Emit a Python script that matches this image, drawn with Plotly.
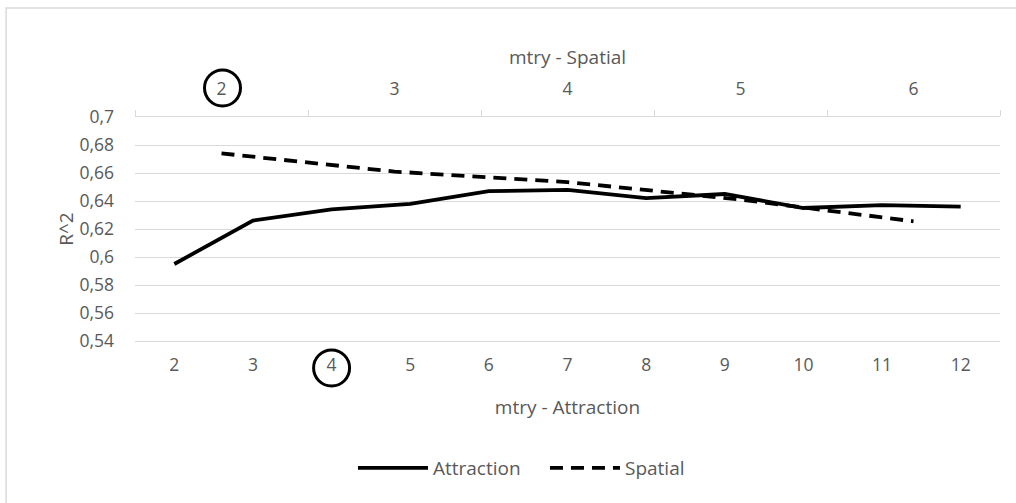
import plotly.graph_objects as go

# mtry values tried for each model and the resulting R^2
attraction_mtry = ["2", "3", "4", "5", "6", "7", "8", "9", "10", "11", "12"]
attraction_r2 = [0.595, 0.626, 0.634, 0.638, 0.647, 0.648, 0.642, 0.645, 0.635, 0.637, 0.636]

spatial_mtry = ["2", "3", "4", "5", "6"]
spatial_r2 = [0.674, 0.661, 0.6535, 0.641, 0.6255]

# chosen mtry for each model (circled on the axes)
best_spatial = "2"
best_attraction = "4"

y_ticks = [0.54, 0.56, 0.58, 0.60, 0.62, 0.64, 0.66, 0.68, 0.70]

GRAY_TEXT = "#595959"
GRID = "#d9d9d9"
FONT = "Open Sans, Noto Sans, sans-serif"

fig = go.Figure()

fig.add_trace(go.Scatter(
    x=attraction_mtry, y=attraction_r2, name="Attraction",
    mode="lines", line=dict(color="#000000", width=3.8),
    xaxis="x", yaxis="y",
))
fig.add_trace(go.Scatter(
    x=spatial_mtry, y=spatial_r2, name="Spatial",
    mode="lines", line=dict(color="#000000", width=3.8, dash="13px,8px"),
    xaxis="x2", yaxis="y",
))

tick_font = dict(family=FONT, size=17.5, color=GRAY_TEXT)
title_font = dict(family=FONT, size=19, color=GRAY_TEXT)

fig.update_layout(
    width=1016, height=503,
    margin=dict(l=135, r=16, t=117, b=162),
    paper_bgcolor="white", plot_bgcolor="white",
    separators=", ",
    font=dict(family=FONT, size=17.5, color=GRAY_TEXT),
    showlegend=True,
    legend=dict(
        orientation="h", x=0.252, xanchor="left", xref="paper",
        y=-0.567, yanchor="middle",
        font=dict(family=FONT, size=19, color=GRAY_TEXT),
        itemwidth=70, entrywidth=107, traceorder="normal",
    ),
    xaxis=dict(
        type="category", categoryorder="array", categoryarray=attraction_mtry,
        range=[-0.5, len(attraction_mtry) - 0.5],
        showgrid=False, showline=True, linecolor=GRID, linewidth=1.3,
        ticks="", tickfont=tick_font, ticklabelstandoff=8,
        title=dict(text="mtry - Attraction", font=title_font, standoff=25),
        zeroline=False,
    ),
    xaxis2=dict(
        type="category", categoryorder="array", categoryarray=spatial_mtry,
        range=[-0.5, len(spatial_mtry) - 0.5],
        overlaying="x", side="top", anchor="y",
        showgrid=False, showline=True, linecolor=GRID, linewidth=1.3,
        tickson="boundaries", ticks="outside", ticklen=6, tickcolor=GRID, tickwidth=1.3,
        tickfont=tick_font, ticklabelstandoff=14,
        title=dict(text="mtry - Spatial", font=title_font, standoff=6),
        zeroline=False,
    ),
    yaxis=dict(
        range=[0.54, 0.70], tickvals=y_ticks, tickformat=".2~f",
        showgrid=True, gridcolor=GRID, gridwidth=1.3,
        showline=False, zeroline=False, ticks="",
        tickfont=tick_font, ticklabelstandoff=20,
        title=dict(text="R^2", font=title_font, standoff=0),
    ),
)

# chart-area outline
fig.add_shape(type="rect", xref="paper", yref="paper",
              x0=-0.149, x1=1.2, y0=-1.0, y1=1.487,
              line=dict(color=GRID, width=1.5), fillcolor="rgba(0,0,0,0)", layer="below")

# circles around the selected mtry tick labels (category axes are indexed by position)
fig.add_shape(type="circle", xref="x2", yref="paper",
              xsizemode="pixel", ysizemode="pixel",
              xanchor=spatial_mtry.index(best_spatial), yanchor=1,
              x0=-17, x1=19, y0=11, y1=47,
              line=dict(color="#000000", width=3))
fig.add_shape(type="circle", xref="x", yref="paper",
              xsizemode="pixel", ysizemode="pixel",
              xanchor=attraction_mtry.index(best_attraction), yanchor=0,
              x0=-18, x1=18, y0=-45, y1=-9,
              line=dict(color="#000000", width=3))

fig.write_html("out.html")
